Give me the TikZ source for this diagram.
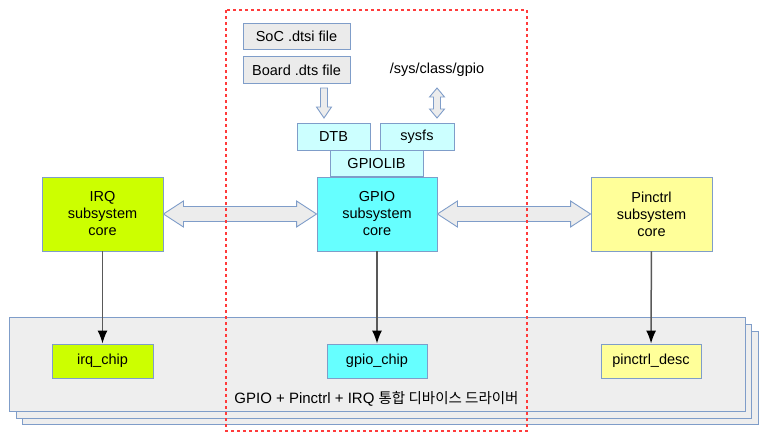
\documentclass[tikz,border=0pt]{standalone}
\usepackage{fontspec}
\setmainfont{Liberation Sans}
\newfontfamily\krfont{Noto Sans CJK KR}
\usetikzlibrary{arrows.meta,calc}

\definecolor{boxline}{HTML}{7F9DC9}
\definecolor{irqgreen}{HTML}{CCFF00}
\definecolor{gpiocyan}{HTML}{66FFFF}
\definecolor{pinyellow}{HTML}{FFFF99}
\definecolor{libcyan}{HTML}{CCFFFF}
\definecolor{filegray}{HTML}{EBEBEB}
\definecolor{stackgray}{HTML}{EEEEEE}
\definecolor{redline}{HTML}{FF3B3B}

\tikzset{
  box/.style={draw=boxline,line width=0.9pt,inner sep=0pt,align=center,
    font=\fontsize{14.5}{17}\selectfont},
  filebox/.style={box,fill=filegray,minimum width=107,minimum height=26.5},
  libbox/.style={box,fill=libcyan,minimum height=26.5},
  corebox/.style={box,minimum width=121,minimum height=74},
  chipbox/.style={box,minimum width=101,minimum height=34},
  fatarrow/.style={draw=boxline,line width=0.9pt,fill=gray!15,line join=miter},
  down/.style={draw=black!65,line width=1.5pt,-{Latex[length=13pt,width=10pt,black]}},
  layer/.style={draw=boxline,line width=0.9pt,fill=stackgray},
}

\begin{document}
\begin{tikzpicture}[x=1pt,y=-1pt]
%%
\useasboundingbox (0,0) rectangle (768,442);
% stacked driver boxes
\draw [layer] (22,331) rectangle (758,424);
\draw [layer] (16,324) rectangle (751,418);
\draw [layer] (9,317) rectangle (745,411);
%
\node (node_soc) at (296.5,36.5) [filebox] {SoC .dtsi file};
\node (node_board) at (296.5,70) [filebox] {Board .dts file};
\node (node_sysgpio) at (437,70) [font=\fontsize{14.5}{17}\selectfont,inner sep=0pt] {/sys/class/gpio};
\node (node_dtb) at (333.5,137) [libbox,minimum width=73] {DTB};
\node (node_sysfs) at (417,137) [libbox,minimum width=74] {sysfs};
\node (node_gpiolib) at (376.5,163.5) [libbox,minimum width=93] {GPIOLIB};
\node (node_gpio) at (377,214) [corebox,fill=gpiocyan,minimum width=120] {GPIO\\subsystem\\core};
\node (node_irq) at (102.5,214) [corebox,fill=irqgreen] {IRQ\\subsystem\\core};
\node (node_pinctrl) at (651.5,214) [corebox,fill=pinyellow] {Pinctrl\\subsystem\\core};
\node (node_irqchip) at (102.5,361) [chipbox,fill=irqgreen] {irq\_chip};
\node (node_gpiochip) at (377,361) [chipbox,fill=gpiocyan,minimum width=100] {gpio\_chip};
\node (node_pinctrldesc) at (651,361) [chipbox,fill=pinyellow,minimum width=100] {pinctrl\_desc};
\node (node_driver) at (376.5,399) [inner sep=0pt,font=\fontsize{15}{17}\selectfont] {GPIO + Pinctrl + IRQ {\krfont\fontsize{14.5}{17}\selectfont 통합 디바이스 드라이버}};
%
\coordinate (dts_in) at (324,88);
\coordinate (sys_top) at (437,88);
% hollow arrows
\draw [fatarrow] (dts_in) ++(-3.5,0) -- ++(7,0) -- ++(0,19) -- ++(4,0) -- ++(-7.5,11) -- ++(-7.5,-11) -- ++(4,0) -- cycle;
\draw [fatarrow] (sys_top) -- ++(7.5,9) -- ++(-4,0) -- ++(0,12) -- ++(4,0) -- ++(-7.5,9) -- ++(-7.5,-9) -- ++(4,0) -- ++(0,-12) -- ++(-4,0) -- cycle;
\draw [fatarrow] (node_irq.east) -- ++(20,-13) -- ++(0,5.5) -- ($(node_gpio.west)+(-20,-7.5)$) -- ++(0,-5.5) -- (node_gpio.west) -- ++(-20,13) -- ++(0,-5.5) -- ($(node_irq.east)+(20,7.5)$) -- ++(0,5.5) -- cycle;
\draw [fatarrow] (node_gpio.east) -- ++(20,-13) -- ++(0,5.5) -- ($(node_pinctrl.west)+(-20,-7.5)$) -- ++(0,-5.5) -- (node_pinctrl.west) -- ++(-20,13) -- ++(0,-5.5) -- ($(node_gpio.east)+(20,7.5)$) -- ++(0,5.5) -- cycle;
% core to chip
\draw [down] (node_irq) -- (node_irqchip);
\draw [down] (node_gpio) -- (node_gpiochip);
\draw [down] (node_pinctrl) -- (node_pinctrldesc);
%
\draw [redline,line width=1.4pt,dash pattern=on 3pt off 3pt] (226,10) rectangle (527,431);
%
\end{tikzpicture}
\end{document}
